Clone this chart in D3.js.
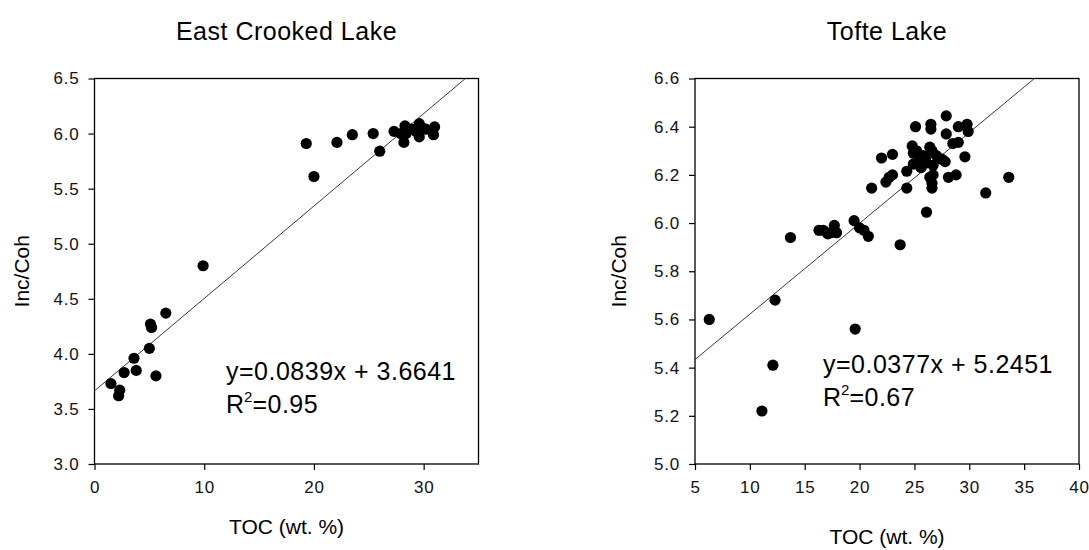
<!DOCTYPE html>
<html>
<head>
<meta charset="utf-8">
<script src="https://cdn.jsdelivr.net/npm/d3@7"></script>
<style>
  html, body { margin: 0; padding: 0; background: #fff; }
  svg { display: block; font-family: "Liberation Sans", Arial, sans-serif; }
  .tick text { fill: #111; }
</style>
</head>
<body>
<svg id="chart" width="1089" height="550"></svg>
<script>
// East Crooked Lake: TOC (wt. %) vs Inc/Coh
const eastToc = [1.5, 2.3, 2.2, 2.7, 3.6, 3.8, 5.0, 5.1, 5.2, 5.6, 6.5, 9.9,
  19.3, 20.0, 22.1, 23.5, 25.4, 26.0, 27.3, 27.9, 28.3, 28.2, 28.4, 28.9,
  29.3, 29.6, 29.6, 29.9, 30.2, 31.0, 30.9];
const eastRatio = [3.73, 3.67, 3.62, 3.83, 3.96, 3.85, 4.05, 4.27, 4.24, 3.80, 4.37, 4.80,
  5.91, 5.61, 5.92, 5.99, 6.00, 5.84, 6.02, 6.00, 6.07, 5.92, 6.00, 6.04,
  6.02, 6.09, 5.97, 6.05, 6.04, 6.06, 5.99];

// Tofte Lake: TOC (wt. %) vs Inc/Coh
const tofteToc = [6.3, 12.3, 12.1, 11.1, 13.7, 19.6, 16.3, 16.7, 17.1, 17.4, 17.7, 17.9,
  19.5, 20.0, 20.4, 20.8, 21.1, 23.7, 22.4, 22.7, 23.0, 22.0, 23.0, 24.3, 24.3,
  25.1, 26.1, 26.5, 26.5, 27.9, 27.9, 29.0, 29.8, 29.9, 28.5, 29.0, 29.6, 28.1, 28.8,
  31.5, 33.6, 24.8, 24.9, 25.2, 25.5, 25.3, 26.1, 25.8, 26.4, 26.6, 26.7, 27.0,
  27.5, 27.8, 24.9, 26.4, 26.6, 26.6, 26.7, 26.0, 25.6];
const tofteRatio = [5.60, 5.68, 5.41, 5.22, 5.94, 5.56, 5.97, 5.97, 5.955, 5.96, 5.99, 5.96,
  6.01, 5.98, 5.97, 5.945, 6.145, 5.91, 6.17, 6.19, 6.20, 6.27, 6.285, 6.145, 6.215,
  6.40, 6.045, 6.41, 6.39, 6.445, 6.37, 6.40, 6.41, 6.38, 6.33, 6.335, 6.275, 6.19, 6.20,
  6.125, 6.19, 6.32, 6.29, 6.30, 6.265, 6.25, 6.25, 6.28, 6.315, 6.30, 6.24, 6.28,
  6.265, 6.255, 6.245, 6.19, 6.165, 6.145, 6.20, 6.27, 6.23];

// Tick values and fitted lines
const eastXTicks = [0, 10, 20, 30];
const eastYTicks = [3.0, 3.5, 4.0, 4.5, 5.0, 5.5, 6.0, 6.5];
const tofteXTicks = [5, 10, 15, 20, 25, 30, 35, 40];
const tofteYTicks = [5.0, 5.2, 5.4, 5.6, 5.8, 6.0, 6.2, 6.4, 6.6];
const eastFit = { slope: 0.0839, intercept: 3.6641, label: "y=0.0839x + 3.6641", r2: "0.95" };
const tofteFit = { slope: 0.0377, intercept: 5.2451, label: "y=0.0377x + 5.2451", r2: "0.67" };

const svg = d3.select("#chart");

function panel(opts) {
  const { left, right, top, bottom, xDomain, yDomain, xTicks, yTicks, xs, ys, fit,
          title, yFormat, eqX, eqY, xTitleY, yTitleX, clipId } = opts;
  const x = d3.scaleLinear().domain(xDomain).range([left, right]);
  const y = d3.scaleLinear().domain(yDomain).range([bottom, top]);
  const g = svg.append("g");

  // title
  g.append("text")
    .attr("x", (left + right) / 2).attr("y", 40)
    .attr("text-anchor", "middle")
    .style("font-size", "25px").style("letter-spacing", "0.5px")
    .attr("fill", "#000")
    .text(title);

  // frame
  g.append("rect")
    .attr("x", left).attr("y", top)
    .attr("width", right - left).attr("height", bottom - top)
    .attr("fill", "none").attr("stroke", "#000").attr("stroke-width", 1.3);

  // axes
  const xAxis = g.append("g").attr("transform", `translate(0,${bottom})`)
    .call(d3.axisBottom(x).tickValues(xTicks).tickSize(6).tickPadding(10).tickFormat(d3.format("d")));
  const yAxis = g.append("g").attr("transform", `translate(${left},0)`)
    .call(d3.axisLeft(y).tickValues(yTicks).tickSize(6).tickPadding(9).tickFormat(d3.format(yFormat)));
  [xAxis, yAxis].forEach(a => {
    a.select(".domain").remove();
    a.selectAll(".tick line").attr("stroke", "#000").attr("stroke-width", 1.2);
    a.selectAll(".tick text").style("font-size", "17px").style("letter-spacing", "0.8px")
      .attr("font-family", "Liberation Sans, Arial, sans-serif");
  });
  xAxis.selectAll(".tick text").attr("dy", "0.75em");

  // axis titles
  g.append("text")
    .attr("x", (left + right) / 2).attr("y", xTitleY)
    .attr("text-anchor", "middle")
    .style("font-size", "21px").attr("fill", "#000")
    .text("TOC (wt. %)");
  g.append("text")
    .attr("transform", `translate(${yTitleX},${(top + bottom) / 2}) rotate(-90)`)
    .attr("text-anchor", "middle")
    .style("font-size", "21px").attr("fill", "#000")
    .text("Inc/Coh");

  // regression line clipped to the frame
  svg.append("clipPath").attr("id", clipId)
    .append("rect").attr("x", left).attr("y", top)
    .attr("width", right - left).attr("height", bottom - top);
  const fx = xDomain;
  g.append("line")
    .attr("clip-path", `url(#${clipId})`)
    .attr("x1", x(fx[0])).attr("y1", y(fit.intercept + fit.slope * fx[0]))
    .attr("x2", x(fx[1])).attr("y2", y(fit.intercept + fit.slope * fx[1]))
    .attr("stroke", "#222").attr("stroke-width", 0.9);

  // points
  g.append("g").selectAll("circle")
    .data(xs.map((v, i) => [v, ys[i]]))
    .join("circle")
    .attr("cx", d => x(d[0])).attr("cy", d => y(d[1]))
    .attr("r", 5.6).attr("fill", "#000");

  // equation and R²
  const eq = g.append("g").style("font-size", "25px").attr("fill", "#000");
  eq.append("text").attr("x", eqX).attr("y", eqY).style("letter-spacing", "0.5px").text(fit.label);
  const r = eq.append("text").attr("x", eqX).attr("y", eqY + 33);
  r.append("tspan").text("R");
  r.append("tspan").attr("dy", -11).style("font-size", "15px").text("2");
  r.append("tspan").attr("dy", 11).style("letter-spacing", "0.5px").text("=" + fit.r2);
}

panel({
  left: 94.5, right: 478.5, top: 78.5, bottom: 464,
  xDomain: [0, 35], yDomain: [3, 6.5],
  xTicks: eastXTicks, yTicks: eastYTicks,
  xs: eastToc, ys: eastRatio, fit: eastFit,
  title: "East Crooked Lake", yFormat: ".1f",
  eqX: 226, eqY: 380, xTitleY: 534, yTitleX: 29, clipId: "clipEast"
});

panel({
  left: 695, right: 1079, top: 78.5, bottom: 464,
  xDomain: [5, 40], yDomain: [5, 6.6],
  xTicks: tofteXTicks, yTicks: tofteYTicks,
  xs: tofteToc, ys: tofteRatio, fit: tofteFit,
  title: "Tofte Lake", yFormat: ".1f",
  eqX: 823, eqY: 373, xTitleY: 544, yTitleX: 626, clipId: "clipTofte"
});
</script>
</body>
</html>
